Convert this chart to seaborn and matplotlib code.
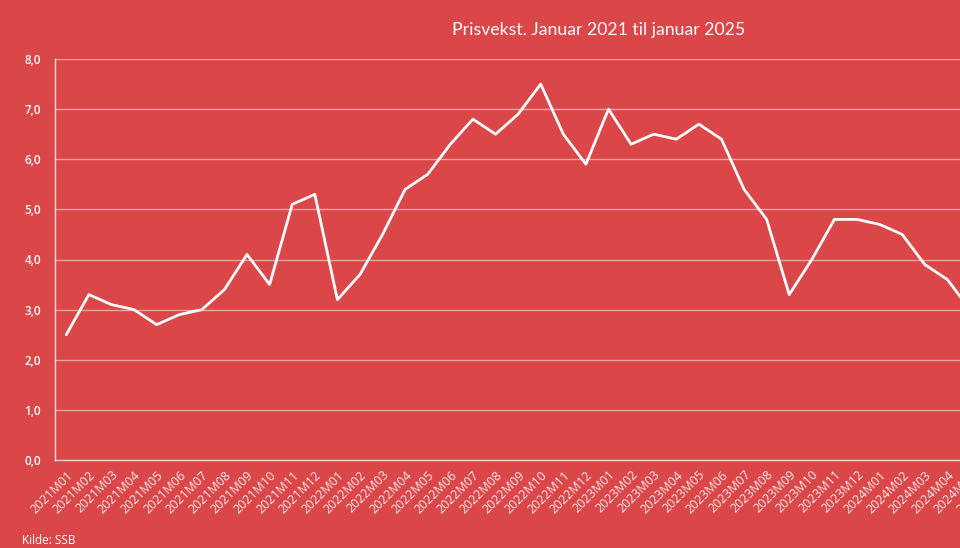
import numpy as np
import pandas as pd
import matplotlib
matplotlib.use("Agg")
import matplotlib.pyplot as plt
import seaborn as sns

# Months shown on the axis (Jan 2021 - Jan 2025) and the visible CPI values (%)
months = [f"{y}M{m:02d}" for y in range(2021, 2025) for m in range(1, 13)] + ["2025M01"]
values = [2.5, 3.3, 3.1, 3.0, 2.7, 2.9, 3.0, 3.4, 4.1, 3.5, 5.1, 5.3,
          3.2, 3.7, 4.5, 5.4, 5.7, 6.3, 6.8, 6.5, 6.9, 7.5, 6.5, 5.9,
          7.0, 6.3, 6.5, 6.4, 6.7, 6.4, 5.4, 4.8, 3.3, 4.0, 4.8, 4.8,
          4.7, 4.5, 3.9, 3.6, 3.0]
y_ticks = np.arange(0, 9, 1)

BG = "#DB4649"

df = pd.DataFrame({"idx": np.arange(len(values)), "value": values})

sns.set_theme(style="white")
plt.rcParams["font.family"] = ["Open Sans", "DejaVu Sans"]

fig = plt.figure(figsize=(9.6, 5.48), dpi=100, facecolor=BG)
# plot area runs past the right edge, like the cropped source image
ax = fig.add_axes([55 / 960, 1 - 460 / 548, 1107 / 960, 401 / 548])
ax.set_facecolor(BG)

sns.lineplot(data=df, x="idx", y="value", ax=ax, color="white",
             linewidth=2.0, legend=False)

ax.set_xlim(-0.5, len(months) - 0.5)
ax.set_ylim(0, 8)
ax.set_yticks(y_ticks)
ax.set_yticklabels([f"{v:.1f}".replace(".", ",") for v in y_ticks],
                   color="white", fontsize=8.5, fontweight="semibold")
ax.set_xticks(np.arange(len(months)))
ax.set_xticklabels(months, rotation=45, ha="right", va="top",
                   rotation_mode="anchor", color="#FBE9E9", fontsize=9)
ax.tick_params(axis="x", length=0, pad=6)
ax.tick_params(axis="y", length=0, pad=10)

for v in y_ticks[1:]:
    ax.axhline(v, color="white", alpha=0.5, linewidth=1, zorder=0)
ax.set_xlabel("")
ax.set_ylabel("")

for side in ["top", "right"]:
    ax.spines[side].set_visible(False)
for side in ["left", "bottom"]:
    ax.spines[side].set_color("white")
    ax.spines[side].set_alpha(0.8)
    ax.spines[side].set_linewidth(1)

fig.text(599 / 960, 1 - 30 / 548, "Prisvekst. Januar 2021 til januar 2025",
         ha="center", va="center", color="white", fontsize=12.7,
         family=["Lato", "DejaVu Sans"])
fig.text(22 / 960, 1 - 541 / 548, "Kilde: SSB", ha="left", va="center",
         color="white", fontsize=8.5)

fig.savefig("out.png", dpi=100, facecolor=BG)
